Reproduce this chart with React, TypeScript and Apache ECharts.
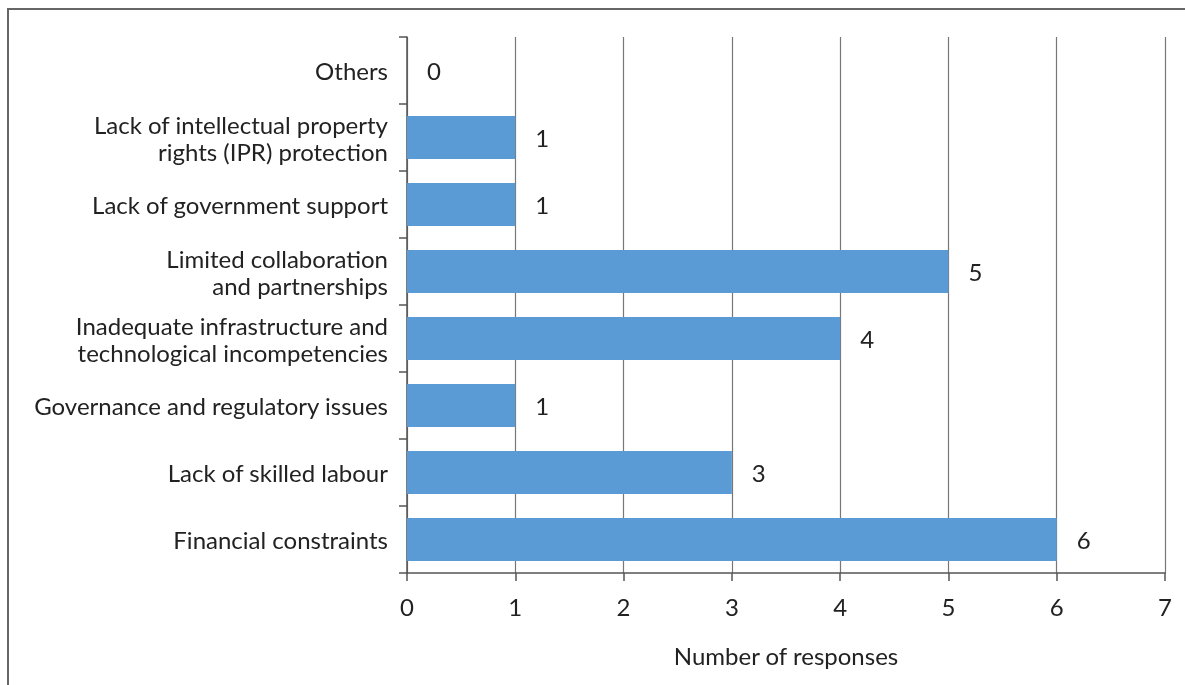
import React, { useEffect, useRef } from "react";
import * as echarts from "echarts";

const categories = [
  "Financial constraints",
  "Lack of skilled labour",
  "Governance and regulatory issues",
  "Inadequate infrastructure and\ntechnological incompetencies",
  "Limited collaboration\nand partnerships",
  "Lack of government support",
  "Lack of intellectual property\nrights (IPR) protection",
  "Others",
];
const responses = [6, 3, 1, 4, 5, 1, 1, 0];
const xTicks = [0, 1, 2, 3, 4, 5, 6, 7];
const xAxisTitle = "Number of responses";

export default function App() {
  const ref = useRef<HTMLDivElement>(null);
  useEffect(() => {
    if (!ref.current) return;
    const chart = echarts.init(ref.current, null, { renderer: "svg" });
    chart.setOption({
      animation: false,
      textStyle: { fontFamily: "Lato" },
      grid: { left: 407, right: 20, top: 37, bottom: 112 },
      xAxis: {
        type: "value",
        min: xTicks[0],
        max: xTicks[xTicks.length - 1],
        interval: 1,
        name: xAxisTitle,
        nameLocation: "middle",
        nameGap: 70,
        nameTextStyle: { fontSize: 24, color: "#222", fontFamily: "Lato" },
        axisLine: { show: true, lineStyle: { color: "#555", width: 1.5 } },
        axisTick: { show: true, length: 8, lineStyle: { color: "#555", width: 1.5 } },
        axisLabel: { fontSize: 24, color: "#222", margin: 21, fontFamily: "Lato" },
        splitLine: { show: true, lineStyle: { color: "#777", width: 1.2 } },
      },
      yAxis: {
        type: "category",
        data: categories,
        axisLine: { show: true, lineStyle: { color: "#555", width: 1.5 } },
        axisTick: { show: true, length: 8, lineStyle: { color: "#555", width: 1.5 } },
        axisLabel: {
          fontSize: 24,
          color: "#222",
          margin: 19,
          lineHeight: 27,
          fontFamily: "Lato",
          interval: 0,
        },
        splitLine: { show: false },
      },
      series: [
        {
          type: "bar",
          data: responses,
          barWidth: 43,
          itemStyle: { color: "#5B9BD5" },
          label: {
            show: true,
            position: "right",
            distance: 20,
            fontSize: 24,
            color: "#222",
            fontFamily: "Lato",
          },
        },
      ],
    });
    return () => chart.dispose();
  }, []);
  return (
    <>
      <div
        style={{
          position: "fixed",
          left: 7,
          top: 8,
          width: 1300,
          height: 800,
          border: "2px solid #666",
          boxSizing: "border-box",
        }}
      />
      <div
        ref={ref}
        style={{ position: "fixed", left: 0, top: 0, width: 1185, height: 685 }}
      />
    </>
  );
}
